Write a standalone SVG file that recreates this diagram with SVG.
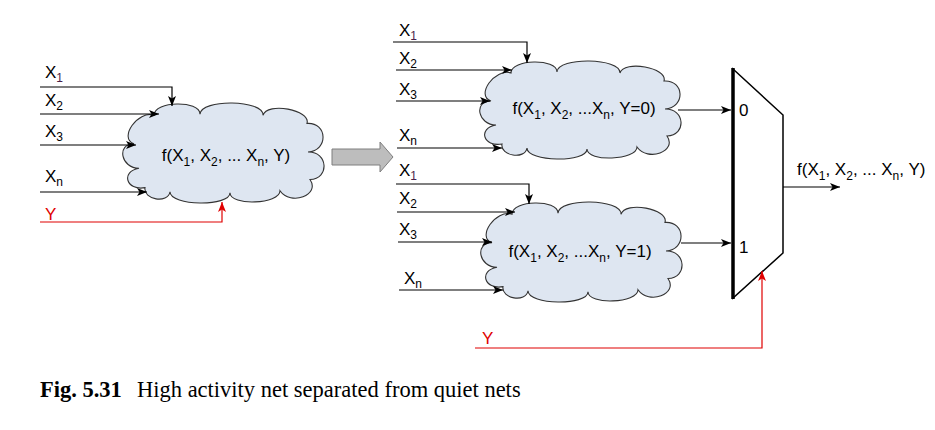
<svg xmlns="http://www.w3.org/2000/svg" width="935" height="430" viewBox="0 0 935 430">
<style>
  .t { font-family: "Liberation Sans", Arial, sans-serif; font-size: 17px; fill: #000; }
  .sub { font-size: 12px; }
  .red { fill: #e00000; }
  .cloud { fill: #dee6f1; stroke: #333; stroke-width: 1.1; vector-effect: non-scaling-stroke; }
  .w { fill: none; stroke: #000; stroke-width: 1.2; }
  .wr { fill: none; stroke: #e00000; stroke-width: 1.2; }
  .cap { font-family: "Liberation Serif", "Times New Roman", serif; font-size: 22.5px; fill: #000; }
</style>
<defs>
  <path id="cloudShape" d="M34,12 C34,-2 80,-3 80,11 C80.7,-4.3 143.7,-3.3 143,12 C147,-1.3 191,6.7 187,20 C207.7,18.7 208.7,46.7 188,48 C208,47.3 210,74.3 190,75 C200.7,90.3 170.7,101.3 160,86 C160,99.3 110,101.3 110,88 C110,102 50,101 50,87 C48,99 23,95 25,83 C6.3,86.3 0.3,67.3 19,64 C1,64 -4,40 14,40 C-2,34.7 18,6.7 34,12 Z"/>
  <marker id="ah" markerUnits="userSpaceOnUse" markerWidth="10" markerHeight="9" viewBox="0 0 10 9" refX="10" refY="4.5" orient="auto">
    <path d="M0,0.5 L10,4.5 L0,8.5 L2.5,4.5 Z" fill="#000"/>
  </marker>
  <marker id="ahr" markerUnits="userSpaceOnUse" markerWidth="10" markerHeight="9" viewBox="0 0 10 9" refX="10" refY="4.5" orient="auto">
    <path d="M0,0.5 L10,4.5 L0,8.5 L2.5,4.5 Z" fill="#e00000"/>
  </marker>
</defs>

<!-- Left cloud -->
<g id="cloudLeft">
  <use href="#cloudShape" class="cloud" transform="translate(120,103) scale(1,1.02)"/>
  <text class="t" x="226" y="161" text-anchor="middle">f(X<tspan class="sub" dy="5">1</tspan><tspan dy="-5">, X</tspan><tspan class="sub" dy="5">2</tspan><tspan dy="-5">, ... X</tspan><tspan class="sub" dy="5">n</tspan><tspan dy="-5">, Y)</tspan></text>
</g>

<!-- Top right cloud -->
<g id="cloudY0">
  <use href="#cloudShape" class="cloud" transform="translate(477,61)"/>
  <text class="t" x="584" y="114" text-anchor="middle">f(X<tspan class="sub" dy="5">1</tspan><tspan dy="-5">, X</tspan><tspan class="sub" dy="5">2</tspan><tspan dy="-5">, ...X</tspan><tspan class="sub" dy="5">n</tspan><tspan dy="-5">, Y=0)</tspan></text>
</g>

<!-- Bottom right cloud -->
<g id="cloudY1">
  <use href="#cloudShape" class="cloud" transform="translate(478,202) scale(1,1.02)"/>
  <text class="t" x="580" y="257" text-anchor="middle">f(X<tspan class="sub" dy="5">1</tspan><tspan dy="-5">, X</tspan><tspan class="sub" dy="5">2</tspan><tspan dy="-5">, ...X</tspan><tspan class="sub" dy="5">n</tspan><tspan dy="-5">, Y=1)</tspan></text>
</g>

<!-- Mux -->
<g id="mux">
  <polygon points="733,69 783,115 783,253 733,298" fill="#fff" stroke="#000" stroke-width="1.5"/>
  <line x1="733" y1="68" x2="733" y2="299" stroke="#000" stroke-width="3.5"/>
  <text class="t" x="739" y="116">0</text>
  <text class="t" x="739" y="253">1</text>
</g>

<!-- Big gray arrow -->
<g id="transformArrow">
  <polygon points="332,149 380,149 380,142 393,157 380,172 380,165 332,165" fill="#bdbdbd" stroke="#7f7f7f" stroke-width="1"/>
</g>

<!-- Input labels -->
<g id="labelsLeft">
  <text class="t" x="45" y="78">X<tspan class="sub" dy="4" fill="#4a1f4a">1</tspan></text>
  <text class="t" x="45" y="106">X<tspan class="sub" dy="4">2</tspan></text>
  <text class="t" x="45" y="137">X<tspan class="sub" dy="4">3</tspan></text>
  <text class="t" x="45" y="182">X<tspan class="sub" dy="4">n</tspan></text>
  <text class="t red" x="45" y="220">Y</text>
</g>
<g id="labelsTop">
  <text class="t" x="399" y="36">X<tspan class="sub" dy="4" fill="#4a1f4a">1</tspan></text>
  <text class="t" x="399" y="64">X<tspan class="sub" dy="4">2</tspan></text>
  <text class="t" x="399" y="95">X<tspan class="sub" dy="4">3</tspan></text>
  <text class="t" x="399" y="141">X<tspan class="sub" dy="4">n</tspan></text>
</g>
<g id="labelsBottom">
  <text class="t" x="399" y="176">X<tspan class="sub" dy="4" fill="#4a1f4a">1</tspan></text>
  <text class="t" x="399" y="204">X<tspan class="sub" dy="4">2</tspan></text>
  <text class="t" x="399" y="235">X<tspan class="sub" dy="4">3</tspan></text>
  <text class="t" x="404" y="284">X<tspan class="sub" dy="4">n</tspan></text>
  <text class="t red" x="482" y="344">Y</text>
</g>
<g id="outputLabel">
  <text class="t" x="797" y="175">f(X<tspan class="sub" dy="5">1</tspan><tspan dy="-5">, X</tspan><tspan class="sub" dy="5">2</tspan><tspan dy="-5">, ... X</tspan><tspan class="sub" dy="5">n</tspan><tspan dy="-5">, Y)</tspan></text>
</g>

<!-- Connectors -->
<g id="connectors">
  <path class="w" d="M40,87 H172 V106" marker-end="url(#ah)"/>
  <path class="w" d="M40,114 H159" marker-end="url(#ah)"/>
  <path class="w" d="M40,145 H136" marker-end="url(#ah)"/>
  <path class="w" d="M40,192 H147" marker-end="url(#ah)"/>
  <path class="wr" d="M40,222 H222 V202" marker-end="url(#ahr)"/>

  <path class="w" d="M393,42 H527 V63" marker-end="url(#ah)"/>
  <path class="w" d="M396,70 H512" marker-end="url(#ah)"/>
  <path class="w" d="M396,101 H490" marker-end="url(#ah)"/>
  <path class="w" d="M397,148 H502" marker-end="url(#ah)"/>
  <path class="w" d="M678,110 H731" marker-end="url(#ah)"/>

  <path class="w" d="M396,184 H529 V204" marker-end="url(#ah)"/>
  <path class="w" d="M397,212 H515" marker-end="url(#ah)"/>
  <path class="w" d="M398,242 H492" marker-end="url(#ah)"/>
  <path class="w" d="M399,290 H503" marker-end="url(#ah)"/>
  <path class="w" d="M681,243 H731" marker-end="url(#ah)"/>

  <path class="wr" d="M475,348 H762 V271" marker-end="url(#ahr)"/>
  <path class="w" d="M783,187 H840" marker-end="url(#ah)"/>
</g>

<!-- Caption -->
<g id="caption">
  <text class="cap" x="40" y="397" font-weight="bold">Fig. 5.31</text>
  <text class="cap" x="137" y="397">High activity net separated from quiet nets</text>
</g>
</svg>
